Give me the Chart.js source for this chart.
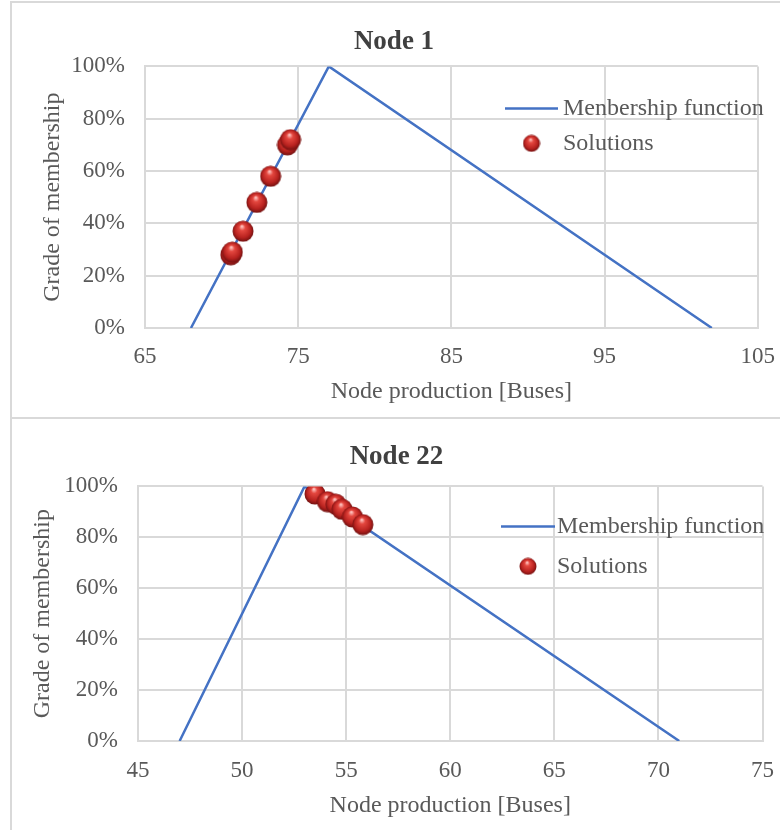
<!DOCTYPE html>
<html lang="en">
<head>
<meta charset="UTF-8">
<title>Node membership</title>
<script src="https://cdn.jsdelivr.net/npm/chart.js@4"></script>
<style>
  body { margin: 0; padding: 0; width: 780px; height: 830px; overflow: hidden; background: #fff; position: relative; }
  .panel { position: absolute; left: 10px; width: 780px; box-sizing: border-box; background: #fff; }
  #panel1 { top: 1px; height: 418px; border: 2px solid #d9d9d9; border-right: none; }
  #panel2 { top: 419px; height: 411px; border-left: 2px solid #d9d9d9; }
  .panel canvas { display: block; }
</style>
</head>
<body>
<div class="panel" id="panel1"><canvas id="node1"></canvas></div>
<div class="panel" id="panel2"><canvas id="node22"></canvas></div>
<script>
// Node 1
const node1FuncX = [68, 77, 102];
const node1FuncY = [0, 100, 0];
const node1SolX = [70.6, 70.7, 71.4, 72.3, 73.2, 74.3, 74.5];
const node1SolY = [28, 29, 37, 48, 58, 70, 72];
const node1XTicks = [65, 75, 85, 95, 105];

// Node 22
const node22FuncX = [47, 53, 71];
const node22FuncY = [0, 100, 0];
const node22SolX = [53.5, 54.1, 54.5, 54.8, 55.3, 55.8];
const node22SolY = [97, 94, 93, 91, 88, 85];
const node22XTicks = [45, 50, 55, 60, 65, 70, 75];

const yTicks = [0, 20, 40, 60, 80, 100];

const FONT = '"Liberation Serif", "Times New Roman", serif';
const TEXT = '#595959';
const GRID = '#d9d9d9';

// shaded red ball used for the solution markers
function makeBall(d) {
  const c = document.createElement('canvas');
  c.width = d; c.height = d;
  const g = c.getContext('2d');
  const r = d / 2;
  const grad = g.createRadialGradient(r * 0.9, r * 0.55, r * 0.05, r, r, r);
  grad.addColorStop(0, '#ffc0bc');
  grad.addColorStop(0.25, '#e4473f');
  grad.addColorStop(0.7, '#b8221f');
  grad.addColorStop(1, '#6a0f0f');
  g.fillStyle = grad;
  g.beginPath();
  g.arc(r, r, r - 0.5, 0, Math.PI * 2);
  g.fill();
  return c;
}
const ball = makeBall(22);
const legendBall = makeBall(18);

// legend drawn inside the plot, like the original
const insideLegend = {
  id: 'insideLegend',
  afterDatasetsDraw(chart, args, o) {
    const { ctx, chartArea } = chart;
    const x0 = chartArea.left + o.x;
    const y0 = chartArea.top + o.y;
    ctx.save();
    ctx.font = '24px ' + FONT;
    ctx.fillStyle = TEXT;
    ctx.textBaseline = 'middle';
    chart.data.datasets.forEach((ds, i) => {
      const y = y0 + i * o.rowGap;
      if (ds.type === 'line') {
        ctx.strokeStyle = ds.borderColor;
        ctx.lineWidth = 2.5;
        ctx.beginPath();
        ctx.moveTo(x0, y);
        ctx.lineTo(x0 + o.lineLen, y);
        ctx.stroke();
      } else {
        ctx.drawImage(legendBall, x0 + o.lineLen / 2 - 9, y - 9);
      }
      ctx.fillText(ds.label, x0 + o.lineLen + o.textGap, y);
    });
    ctx.restore();
  }
};

function toPoints(xs, ys) {
  return xs.map((x, i) => ({ x: x, y: ys[i] }));
}

function makeChart(id, cfg) {
  const padLeft = 8;
  return new Chart(document.getElementById(id), {
    type: 'line',
    data: {
      datasets: [
        {
          type: 'line',
          label: cfg.lineLabel,
          data: toPoints(cfg.funcX, cfg.funcY),
          borderColor: '#4472c4',
          borderWidth: 2.5,
          pointRadius: 0,
          tension: 0,
          fill: false
        },
        {
          type: 'scatter',
          label: 'Solutions',
          data: toPoints(cfg.solX, cfg.solY),
          pointStyle: ball,
          pointRadius: 11,
          order: -1
        }
      ]
    },
    options: {
      responsive: true,
      maintainAspectRatio: false,
      animation: false,
      events: [],
      layout: { padding: { left: padLeft, right: cfg.padRight, top: 0, bottom: 0 } },
      plugins: {
        legend: { display: false },
        tooltip: { enabled: false },
        title: {
          display: true,
          text: cfg.title,
          color: '#404040',
          font: { family: FONT, size: 27, weight: 'bold' },
          padding: { top: cfg.titleTop, bottom: cfg.titleBottom }
        },
        insideLegend: cfg.legend
      },
      scales: {
        x: {
          type: 'linear',
          min: cfg.xTicks[0],
          max: cfg.xTicks[cfg.xTicks.length - 1],
          afterBuildTicks(s) { s.ticks = cfg.xTicks.map(v => ({ value: v })); },
          ticks: { color: TEXT, font: { family: FONT, size: 23 }, padding: cfg.xTickPad, maxRotation: 0, autoSkip: false },
          grid: { color: GRID, lineWidth: 2, drawTicks: false },
          border: { color: GRID, width: 2 },
          title: {
            display: true,
            text: 'Node production [Buses]',
            color: TEXT,
            font: { family: FONT, size: 24 },
            padding: { top: 0, bottom: cfg.xTitlePad }
          },
          afterFit(s) { s.height = cfg.bottomSpace; }
        },
        y: {
          type: 'linear',
          min: 0,
          max: 100,
          afterBuildTicks(s) { s.ticks = yTicks.map(v => ({ value: v })); },
          ticks: { color: TEXT, font: { family: FONT, size: 23 }, padding: 20, callback: v => v + '%' },
          grid: { color: GRID, lineWidth: 2, drawTicks: false },
          border: { color: GRID, width: 2 },
          title: {
            display: true,
            text: 'Grade of membership',
            color: TEXT,
            font: { family: FONT, size: 24 },
            padding: { top: cfg.yTitlePad, bottom: 0 }
          },
          afterFit(s) { s.width = cfg.chartLeft - padLeft; }
        }
      }
    },
    plugins: [insideLegend]
  });
}

makeChart('node1', {
  title: 'Node 1',
  lineLabel: 'Menbership function',
  funcX: node1FuncX, funcY: node1FuncY,
  solX: node1SolX, solY: node1SolY,
  xTicks: node1XTicks,
  chartLeft: 133, padRight: 22, bottomSpace: 89,
  titleTop: 23, titleBottom: 8,
  xTickPad: 15, xTitlePad: 11, yTitlePad: 18,
  legend: { x: 360, y: 42, rowGap: 35, lineLen: 53, textGap: 5 }
});

makeChart('node22', {
  title: 'Node 22',
  lineLabel: 'Membership function',
  funcX: node22FuncX, funcY: node22FuncY,
  solX: node22SolX, solY: node22SolY,
  xTicks: node22XTicks,
  chartLeft: 126, padRight: 17, bottomSpace: 89,
  titleTop: 22, titleBottom: 13,
  xTickPad: 16, xTitlePad: 10, yTitlePad: 8,
  legend: { x: 363, y: 40, rowGap: 40, lineLen: 54, textGap: 2 }
});
</script>
</body>
</html>
